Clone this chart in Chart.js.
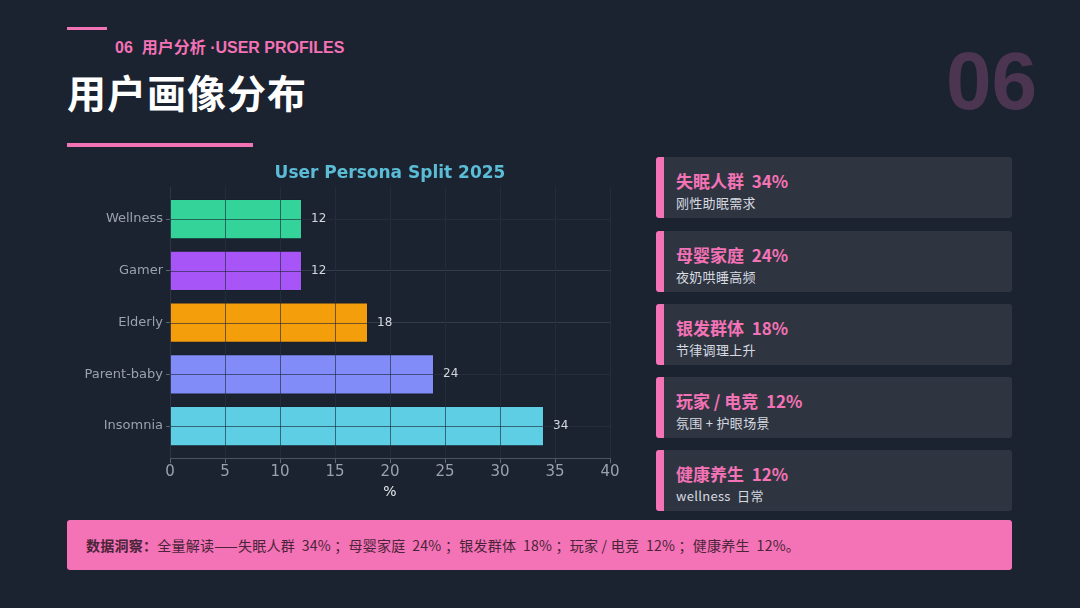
<!DOCTYPE html>
<html>
<head>
<meta charset="utf-8">
<script src="https://cdn.jsdelivr.net/npm/chart.js@4.4.1/dist/chart.umd.min.js"></script>
<style>
  html, body { margin: 0; padding: 0; }
  body {
    width: 1080px; height: 608px; overflow: hidden; position: relative;
    background: #1b2230;
    font-family: "Noto Sans CJK SC", "DejaVu Sans", sans-serif;
  }
  .line-top { position: absolute; left: 67px; top: 27px; width: 40px; height: 3px; background: #f472b6; }
  .kicker { position: absolute; left: 115px; top: 34px; color: #f472b6; font-size: 16px; font-weight: 700;
            font-family: "Liberation Sans", "Noto Sans CJK SC", sans-serif; }
  .title { position: absolute; left: 67px; top: 63px; color: #ffffff; font-size: 39px; font-weight: 700; letter-spacing: 1px; }
  .line-mid { position: absolute; left: 67px; top: 143px; width: 186px; height: 4px; background: #f472b6; }
  .big-num { position: absolute; left: 946px; top: 34px; color: #4b3550; font-size: 82px; font-weight: 700; font-family: "Liberation Sans", "DejaVu Sans", sans-serif; }
  .chart-box { position: absolute; left: 60px; top: 160px; width: 570px; height: 341px; }
  .card {
    position: absolute; left: 656px; width: 356px; height: 61px;
    background: #2f3540; border-radius: 3px; box-sizing: border-box;
    border-left: 8px solid #f472b6;
  }
  .card .h { position: absolute; left: 12px; top: 11px; color: #f472b6; font-size: 17px; font-weight: 700; }
  .card .s { position: absolute; left: 12px; top: 36px; color: #d6dae0; font-size: 13px; letter-spacing: 0.3px; }
  .insight {
    position: absolute; left: 67px; top: 520px; width: 945px; height: 50px;
    background: #f472b6; border-radius: 3px;
    color: #4a2438; font-size: 14px; letter-spacing: 0.25px; line-height: 50px; box-sizing: border-box; padding-left: 19px;
  }
  .insight b { font-weight: 700; }
</style>
</head>
<body>
<div class="line-top"></div>
<div class="kicker">06&nbsp; 用户分析 ·USER PROFILES</div>
<div class="title">用户画像分布</div>
<div class="line-mid"></div>
<div class="big-num">06</div>

<div class="chart-box"><canvas id="chart"></canvas></div>

<div id="cards"></div>

<div class="insight"><b>数据洞察：</b>全量解读——失眠人群&nbsp; 34% ；母婴家庭&nbsp; 24% ；银发群体&nbsp; 18% ；玩家 / 电竞&nbsp; 12% ；健康养生&nbsp; 12%。</div>

<script>
// chart data
const categories = ['Wellness', 'Gamer', 'Elderly', 'Parent-baby', 'Insomnia'];
const shares     = [12, 12, 18, 24, 34];
const barColors  = ['#34d399', '#a855f7', '#f59e0b', '#818cf8', '#5ecee5'];
const xTicks     = [0, 5, 10, 15, 20, 25, 30, 35, 40];
const chartTitle = 'User Persona Split 2025';

// side cards
const cardTitles = ['失眠人群  34%', '母婴家庭  24%', '银发群体  18%', '玩家 / 电竞  12%', '健康养生  12%'];
const cardNotes  = ['刚性助眠需求', '夜奶哄睡高频', '节律调理上升', '氛围 + 护眼场景', 'wellness  日常'];

const cardTops = [157, 231, 304, 377, 450];
const cardsEl = document.getElementById('cards');
cardTitles.forEach((t, i) => {
  const c = document.createElement('div');
  c.className = 'card';
  c.style.top = cardTops[i] + 'px';
  c.innerHTML = `<div class="h">${t.replace(/  /g, '&nbsp; ')}</div><div class="s">${cardNotes[i].replace(/  /g, '&nbsp; ')}</div>`;
  cardsEl.appendChild(c);
});

const gridCol = '#323c4a';

// grid lines redrawn over the bars (darker where they cross), value labels, title centred on the plot
const overlay = {
  id: 'overlay',
  afterDatasetsDraw(chart) {
    const ctx = chart.ctx;
    const area = chart.chartArea;
    const xs = chart.scales.x, ys = chart.scales.y;
    ctx.save();
    ctx.strokeStyle = 'rgba(25,35,50,0.6)';
    ctx.lineWidth = 1;
    xs.ticks.forEach(t => {
      const px = Math.round(xs.getPixelForValue(t.value)) + 0.5;
      ctx.beginPath(); ctx.moveTo(px, area.top); ctx.lineTo(px, area.bottom); ctx.stroke();
    });
    ys.ticks.forEach(t => {
      const py = Math.round(ys.getPixelForValue(t.value)) + 0.5;
      ctx.beginPath(); ctx.moveTo(area.left, py); ctx.lineTo(area.right, py); ctx.stroke();
    });
    const meta = chart.getDatasetMeta(0);
    ctx.font = '12px "DejaVu Sans"';
    ctx.fillStyle = '#d4d8de';
    ctx.textBaseline = 'middle';
    meta.data.forEach((bar, i) => {
      ctx.fillText(String(shares[i]), bar.x + 9, bar.y);
    });
    ctx.font = 'bold 17px "DejaVu Sans"';
    ctx.fillStyle = '#5bbcd6';
    ctx.textAlign = 'center';
    ctx.fillText(chartTitle, (area.left + area.right) / 2, area.top - 13);
    ctx.restore();
  }
};

new Chart(document.getElementById('chart'), {
  type: 'bar',
  data: {
    datasets: [{
      data: shares.map((v, i) => ({ x: v, y: i })),
      backgroundColor: barColors,
      borderColor: 'rgba(20,30,40,0.45)',
      borderWidth: 1,
      barPercentage: 0.78,
      categoryPercentage: 1
    }]
  },
  options: {
    indexAxis: 'y',
    responsive: true,
    maintainAspectRatio: false,
    animation: false,
    layout: { padding: { left: 0, right: 20, top: 27, bottom: 0 } },
    plugins: {
      legend: { display: false },
      tooltip: { enabled: false }
    },
    scales: {
      x: {
        type: 'linear',
        min: 0, max: 40,
        afterBuildTicks: axis => { axis.ticks = xTicks.map(v => ({ value: v })); },
        grid: { color: gridCol, tickLength: 5, tickColor: '#5a6472' },
        border: { color: '#4a5360' },
        ticks: { color: '#9aa2ad', font: { family: 'DejaVu Sans', size: 15 }, padding: 0 },
        title: { display: true, text: '%', color: '#e6e8ec', font: { family: 'DejaVu Sans', size: 14 }, padding: { top: 3, bottom: 0 } }
      },
      y: {
        type: 'linear',
        reverse: true,
        offset: false,
        min: -0.62, max: categories.length - 1 + 0.62,
        afterBuildTicks: axis => { axis.ticks = categories.map((c, i) => ({ value: i })); },
        afterFit: axis => { axis.width = 110; },
        grid: { color: gridCol, offset: false, tickLength: 4, tickColor: '#5a6472' },
        border: { color: '#4a5360' },
        ticks: {
          color: '#9aa2ad', font: { family: 'DejaVu Sans', size: 13 }, padding: 3,
          callback: v => categories[v]
        }
      }
    }
  },
  plugins: [overlay]
});
</script>
</body>
</html>
